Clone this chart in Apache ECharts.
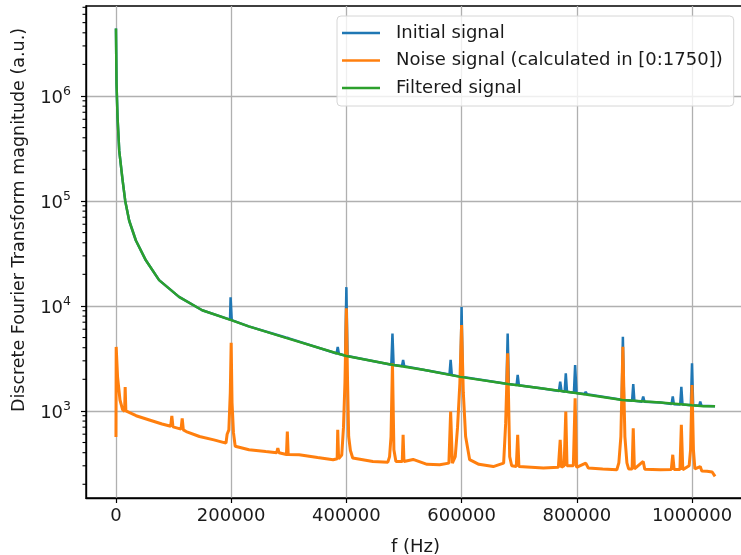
<!DOCTYPE html>
<html>
<head>
<meta charset="utf-8">
<script src="https://cdn.jsdelivr.net/npm/echarts@6/dist/echarts.min.js"></script>
<style>
  html, body { margin: 0; padding: 0; background: #fff; }
  #chart { width: 741px; height: 555px; }
</style>
</head>
<body>
<div id="chart"></div>
<script>
// axis ranges (Hz / a.u.)
const X_MIN = -52000;
const X_MAX = 1092000;
const Y_MIN = 148;
const Y_MAX = 7200000;

// minor ticks of the log axis
const minorTickVals = [
  200, 300, 400, 500, 600, 700, 800, 900,
  2000, 3000, 4000, 5000, 6000, 7000, 8000, 9000,
  20000, 30000, 40000, 50000, 60000, 70000, 80000, 90000,
  200000, 300000, 400000, 500000, 600000, 700000, 800000, 900000,
  2000000, 3000000, 4000000, 5000000, 6000000, 7000000
];

// Filtered signal [f, magnitude]
const filteredPts = [
  [0, 4400000], [1000, 1300000], [2800, 620000], [5700, 300000], [11400, 160000],
  [16100, 100000], [23000, 64800], [34600, 42000], [51900, 27200], [74900, 17600],
  [109500, 12200], [149700, 9100], [198800, 7370], [230500, 6380], [295000, 4960],
  [386000, 3500], [400000, 3340], [481800, 2740], [536000, 2450], [597500, 2110],
  [680400, 1807], [737600, 1640], [798000, 1484], [879000, 1273], [945000, 1200],
  [1000000, 1130], [1020000, 1110], [1040000, 1105]
];

// Initial signal [f, magnitude]
const initialPts = [
  [0, 4400000], [1000, 1300000], [2800, 620000], [5700, 300000], [11400, 160000],
  [16100, 100000], [23000, 64800], [34600, 42000], [51900, 27200], [74900, 17600],
  [109500, 12200], [149700, 9100], [198000, 7400], [199000, 12100], [201000, 7330],
  [230500, 6380], [295000, 5000], [297000, 5150], [299000, 4940], [383000, 3520],
  [385000, 4070], [387000, 3500], [398000, 3360], [400000, 15100], [402000, 3330],
  [478000, 2750], [480000, 5470], [482000, 2740], [496500, 2680], [498500, 3060],
  [500500, 2670], [536000, 2450], [579000, 2220], [581000, 3060], [583000, 2200],
  [598000, 2120], [600000, 9780], [602000, 2110], [678000, 1810], [680000, 5470],
  [682000, 1805], [695500, 1760], [697400, 2200], [699500, 1755], [737600, 1640],
  [769000, 1550], [771200, 1900], [773500, 1545], [779000, 1525], [780900, 2280],
  [783000, 1520], [795000, 1490], [797100, 2730], [799500, 1484], [813500, 1450],
  [815500, 1520], [817500, 1445], [878000, 1275], [880000, 5080], [882000, 1272],
  [896000, 1250], [898000, 1805], [900000, 1248], [913000, 1225], [915300, 1370],
  [917500, 1220], [945000, 1200], [964500, 1160], [966600, 1370], [968500, 1158],
  [979500, 1150], [981500, 1700], [983500, 1148], [998000, 1135], [1000000, 2840],
  [1002000, 1132], [1012500, 1120], [1014300, 1225], [1016500, 1118], [1040000, 1105]
];

// Noise signal [f, magnitude]
const noisePts = [
  [0, 565], [400, 4070], [2800, 2110], [7000, 1270], [11500, 1030], [15000, 990],
  [16000, 1690], [17200, 1000], [20000, 960], [35000, 900], [58000, 820], [80000, 750],
  [95000, 715], [97000, 895], [99000, 705], [113000, 670], [115000, 850], [117000, 660],
  [122000, 636], [145000, 570], [170000, 530], [191000, 493], [193000, 600], [196000, 660],
  [198500, 1500], [200000, 4450], [201500, 1200], [204000, 620], [207000, 460],
  [231000, 426], [260000, 410], [279000, 400], [281000, 442], [283000, 400], [296000, 385],
  [297500, 636], [299000, 385], [318000, 382], [350000, 360], [377000, 343], [384000, 350],
  [385000, 660], [386500, 350], [392000, 380], [395000, 700], [397500, 1850],
  [400000, 9500], [402000, 2000], [404000, 570], [407000, 420], [411000, 356],
  [446000, 330], [472000, 325], [475000, 367], [477500, 570], [480000, 2840],
  [482500, 426], [486000, 330], [497000, 330], [498500, 591], [500000, 330],
  [515800, 345], [540000, 310], [562000, 307], [578000, 318], [581000, 985], [584000, 318],
  [589000, 367], [593000, 700], [597000, 1830], [600000, 6560], [603000, 1500],
  [607000, 570], [614000, 343], [630000, 310], [655000, 295], [673000, 318],
  [676500, 760], [680000, 3530], [683500, 367], [687000, 300], [695000, 295],
  [697400, 591], [699500, 295], [742000, 286], [768000, 290], [771200, 531],
  [773500, 290], [778000, 300], [780900, 985], [783000, 300], [794000, 300],
  [797100, 1321], [799500, 290], [815500, 318], [820000, 286], [845000, 280],
  [869500, 275], [873000, 320], [876500, 570], [880000, 4080], [883500, 570],
  [887000, 320], [890000, 280], [896000, 280], [898000, 684], [900000, 280],
  [915300, 330], [918000, 278], [945000, 275], [964000, 276], [966600, 382],
  [969000, 276], [979000, 276], [981500, 736], [984000, 276], [995000, 300],
  [997500, 426], [1000000, 1767], [1002500, 426], [1005000, 280], [1014300, 295],
  [1017000, 268], [1026000, 266], [1035000, 262], [1040000, 238]
];

const FONT = 'DejaVu Sans';

const chart = echarts.init(document.getElementById('chart'), null, { renderer: 'canvas' });

const option = {
  animation: false,
  backgroundColor: '#fff',
  textStyle: { fontFamily: FONT, color: '#000' },
  grid: {
    left: 86,
    right: -4,
    top: 6,
    bottom: 57,
    show: true,
    borderColor: '#000',
    borderWidth: 1.4,
    containLabel: false,
    outerBoundsMode: 'none',
  },
  legend: {
    data: ['Initial signal', 'Noise signal (calculated in [0:1750])', 'Filtered signal'],
    orient: 'vertical',
    left: 337,
    top: 16,
    padding: [8, 11, 9, 5],
    itemGap: 9.5,
    itemWidth: 38,
    itemHeight: 2.5,
    icon: 'rect',
    backgroundColor: 'rgba(255,255,255,0.8)',
    borderColor: '#d6d6d6',
    borderWidth: 1,
    borderRadius: 4,
    textStyle: {
      fontFamily: FONT,
      fontSize: 18,
      color: '#1a1a1a',
      lineHeight: 18,
      padding: [0, 0, 0, 11],
    },
  },
  xAxis: {
    type: 'value',
    min: X_MIN,
    max: X_MAX,
    name: 'f (Hz)',
    nameLocation: 'middle',
    nameGap: 40,
    nameTextStyle: { fontFamily: FONT, fontSize: 18, color: '#1a1a1a' },
    axisLine: { show: true, onZero: false, lineStyle: { color: '#000', width: 1.4 } },
    axisTick: { show: true, length: 5, lineStyle: { color: '#000', width: 1.2 } },
    axisLabel: {
      fontFamily: FONT,
      fontSize: 18,
      color: '#1a1a1a',
      margin: 9,
      showMinLabel: false,
      showMaxLabel: false,
      formatter: (v) => (v % 200000 === 0 ? String(v) : ''),
    },
    splitLine: {
      show: true,
      showMinLine: false,
      showMaxLine: false,
      lineStyle: { color: '#b0b0b0', width: 1.3 },
    },
  },
  yAxis: {
    type: 'log',
    logBase: 10,
    min: Y_MIN,
    max: Y_MAX,
    name: 'Discrete Fourier Transform magnitude (a.u.)',
    nameLocation: 'middle',
    nameGap: 58,
    nameTextStyle: {
      fontFamily: FONT,
      fontSize: 17.5,
      color: '#1a1a1a',
      padding: [0, 0, 0, 64],
    },
    axisLine: { show: true, onZero: false, lineStyle: { color: '#000', width: 1.4 } },
    axisTick: { show: true, length: 5, lineStyle: { color: '#000', width: 1.2 } },
    axisLabel: {
      margin: 15,
      showMinLabel: false,
      showMaxLabel: false,
      formatter: (v) => {
        const e = Math.round(Math.log10(v));
        if (Math.abs(Math.log10(v) - e) > 0.01) return '';
        return '{b|10}{s|' + e + '}';
      },
      rich: {
        b: { fontFamily: FONT, fontSize: 18, color: '#1a1a1a', lineHeight: 22, verticalAlign: 'bottom' },
        s: { fontFamily: FONT, fontSize: 12.5, color: '#1a1a1a', lineHeight: 13, verticalAlign: 'top' },
      },
    },
    splitLine: {
      show: true,
      showMinLine: false,
      showMaxLine: false,
      lineStyle: { color: '#b0b0b0', width: 1.3 },
    },
  },
  series: [
    {
      name: 'Initial signal',
      type: 'line',
      data: initialPts,
      showSymbol: false,
      symbol: 'none',
      color: '#1f77b4',
      lineStyle: { color: '#1f77b4', width: 2.5 },
      z: 2,
    },
    {
      name: 'Noise signal (calculated in [0:1750])',
      type: 'line',
      data: noisePts,
      showSymbol: false,
      symbol: 'none',
      color: '#ff7f0e',
      lineStyle: { color: '#ff7f0e', width: 3 },
      z: 3,
    },
    {
      name: 'Filtered signal',
      type: 'line',
      data: filteredPts,
      showSymbol: false,
      symbol: 'none',
      color: '#2ca02c',
      lineStyle: { color: '#2ca02c', width: 2.5 },
      z: 4,
    },
  ],
};

chart.setOption(option);

// minor ticks of the log y axis, placed through the axis scale
const xLeft = chart.convertToPixel({ xAxisIndex: 0 }, X_MIN);
const tickEls = minorTickVals.map((v) => {
  const y = chart.convertToPixel({ yAxisIndex: 0 }, v);
  return {
    type: 'rect',
    silent: true,
    z: 100,
    shape: { x: xLeft - 3.5, y: y - 0.55, width: 3.5, height: 1.1 },
    style: { fill: '#000' },
  };
});
chart.setOption({ graphic: { elements: tickEls } });
</script>
</body>
</html>
